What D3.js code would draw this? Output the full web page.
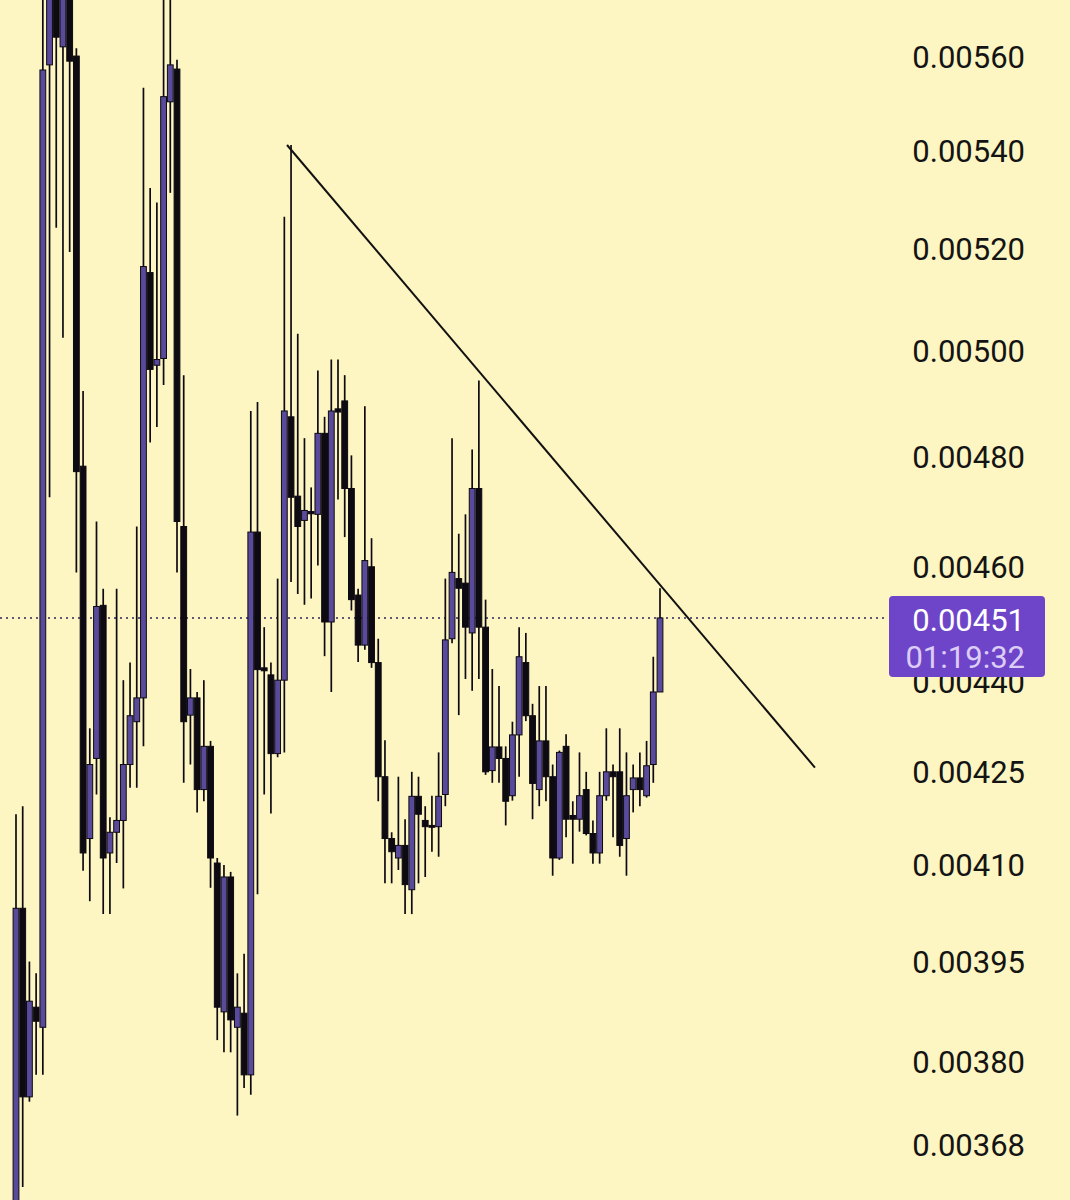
<!DOCTYPE html>
<html>
<head>
<meta charset="utf-8">
<script src="https://cdn.jsdelivr.net/npm/d3@7"></script>
<style>
  html, body { margin: 0; padding: 0; background: #fdf7c4; }
  svg { display: block; }
</style>
</head>
<body>
<svg id="chart" width="1070" height="1200"></svg>
<script>
// Prices in units of 1e-5 (e.g. 451.0 = 0.00451)
const openE5 = [356.0,403.2,374.9,388.1,385.1,558.3,575.6,562.2,574.1,560.2,
 478.2,414.2,427.2,453.2,411.9,415.2,417.1,426.2,433.3,437.3,
 515.3,497.2,498.5,550.4,557.4,467.2,434.4,437.3,422.1,429.2,
 410.3,387.4,408.1,385.1,387.2,378.1,466.2,442.4,441.2,428.0,
 440.3,487.4,472.7,468.3,469.9,469.4,484.3,450.3,488.9,490.4,
 474.1,455.0,446.3,460.0,443.3,424.2,414.2,411.1,413.1,406.1,
 421.0,417.1,416.3,416.1,421.3,447.4,457.9,457.1,448.4,474.1,
 449.4,425.2,429.1,427.2,421.1,431.1,443.3,434.3,422.1,430.1,
 424.2,411.1,429.2,417.9,417.3,422.1,415.0,411.9,421.1,425.0,
 425.0,414.2,422.1,424.0,421.1,426.2,438.3];
const highE5 = [418.1,419.4,395.0,393.2,577.8,578.9,578.9,577.8,577.8,561.9,
 492.3,432.2,468.1,456.1,417.6,456.1,440.3,443.3,467.2,553.4,
 532.4,529.4,574.5,575.6,559.4,495.3,442.2,438.3,440.3,430.1,
 411.1,410.0,408.9,393.2,396.2,488.5,490.2,449.4,443.3,457.9,
 526.5,541.3,503.3,483.4,474.3,496.2,487.4,498.3,498.3,495.3,
 480.2,456.1,489.4,465.1,447.4,430.2,415.2,424.2,417.3,425.0,
 424.2,419.4,421.1,428.2,457.9,483.4,465.9,469.4,481.3,494.3,
 454.2,442.2,439.3,429.2,433.3,449.4,448.4,436.3,439.3,439.3,
 426.2,428.5,431.2,420.2,428.2,425.0,417.1,425.0,432.2,426.2,
 432.2,428.2,426.2,428.2,430.1,444.3,456.2];
const lowE5 = [351.8,362.1,374.2,378.1,378.1,472.5,524.3,502.5,519.4,459.0,
 409.1,404.3,421.3,402.3,402.3,410.3,406.3,422.4,422.4,429.2,
 482.6,485.5,493.4,531.4,459.0,423.2,426.2,418.4,420.2,406.4,
 383.2,381.4,381.4,372.2,376.2,375.2,405.4,421.3,418.2,427.4,
 428.2,457.3,455.2,453.3,454.4,460.2,444.4,438.3,472.1,465.3,
 452.3,443.4,445.5,442.4,420.2,407.1,407.1,409.2,402.3,402.3,
 407.1,408.1,412.1,411.3,419.4,446.6,434.4,440.5,438.5,440.5,
 424.5,423.2,423.2,416.3,420.3,424.2,433.4,417.3,419.4,420.2,
 408.3,410.8,414.4,410.2,415.3,414.7,410.2,410.2,420.3,414.4,
 411.3,408.3,418.4,419.4,420.8,423.2,438.3];
const closeE5 = [403.2,374.9,389.0,386.0,557.2,574.1,564.3,573.5,559.1,477.2,
 411.9,426.2,453.0,411.1,415.2,417.1,426.2,434.3,437.3,516.5,
 496.4,498.3,551.5,558.3,468.1,433.3,437.3,422.1,429.2,411.1,
 388.1,408.1,386.2,388.1,378.1,466.2,442.1,441.9,428.0,440.3,
 488.5,472.5,467.2,470.1,469.5,484.3,450.3,488.5,488.3,474.1,
 454.2,446.3,461.1,443.3,424.2,414.2,412.1,413.1,406.9,421.0,
 418.1,416.1,416.0,421.0,447.2,459.0,456.2,449.4,474.1,449.4,
 425.0,429.1,427.2,420.2,431.1,444.3,434.3,423.1,430.1,424.2,
 411.1,428.2,417.3,417.3,421.1,415.0,411.9,421.1,425.0,424.2,
 413.1,421.1,424.0,422.1,426.0,438.3,451.0];

const tickLabels = ["0.00560","0.00540","0.00520","0.00500","0.00480","0.00460","0.00440","0.00425","0.00410","0.00395","0.00380","0.00368"];
const lastPrice = 0.00451;
const lastPriceLabel = "0.00451";
const countdownLabel = "01:19:32";
// trend line anchors: [candle index, price]
const trendIdx = [40.4, 119.1];
const trendPriceE5 = [541.3, 425.7];

const E = 1e-5;
const candles = openE5.map((o, i) => ({
  i, o: o * E, h: highE5[i] * E, l: lowE5[i] * E, c: closeE5[i] * E
}));

const W = 1070, H = 1200;
const svg = d3.select("#chart");
svg.append("rect").attr("width", W).attr("height", H).attr("fill", "#fdf6c2");

const x = d3.scaleLinear().domain([0, 96]).range([16, 660]);
const y = d3.scaleLog().domain([0.00560, 0.00368]).range([57, 1145]);

svg.append("defs").append("clipPath").attr("id", "plot")
  .append("rect").attr("x", 0).attr("y", 0).attr("width", 885).attr("height", H);

const plot = svg.append("g").attr("clip-path", "url(#plot)");

// last price dotted line
plot.append("line")
  .attr("x1", 0).attr("x2", 890)
  .attr("y1", y(lastPrice)).attr("y2", y(lastPrice))
  .attr("stroke", "#2e2560").attr("stroke-width", 1.6)
  .attr("stroke-dasharray", "2,4");

const bodyW = 5.8;
const g = plot.selectAll("g.candle").data(candles).join("g").attr("class", "candle");
g.append("line")
  .attr("x1", d => x(d.i)).attr("x2", d => x(d.i))
  .attr("y1", d => y(d.h)).attr("y2", d => y(d.l))
  .attr("stroke", "#0d0a12").attr("stroke-width", 1.7);
g.append("rect")
  .attr("x", d => x(d.i) - bodyW / 2)
  .attr("width", bodyW)
  .attr("y", d => y(Math.max(d.o, d.c)))
  .attr("height", d => Math.max(1.5, y(Math.min(d.o, d.c)) - y(Math.max(d.o, d.c))))
  .attr("fill", d => d.c >= d.o ? "#5a4a9c" : "#0d0a12")
  .attr("stroke", "#0d0a12").attr("stroke-width", 1);

// trend line
const trend = trendIdx.map((t, k) => [x(t), y(trendPriceE5[k] * E)]);
plot.append("path")
  .attr("d", d3.line()(trend))
  .attr("stroke", "#111").attr("stroke-width", 2).attr("fill", "none");

// price axis labels
const tickVals = tickLabels.map(Number);
svg.append("g").selectAll("text").data(tickVals).join("text")
  .attr("x", 1025).attr("y", d => y(d)).attr("dy", "0.36em")
  .attr("text-anchor", "end")
  .attr("font-family", "Roboto, sans-serif").attr("font-size", 31)
  .attr("fill", "#141414")
  .text((d, i) => tickLabels[i]);

// last price tag
const ty = y(lastPrice);
const tag = svg.append("g");
tag.append("rect").attr("x", 889).attr("y", ty - 22).attr("width", 156).attr("height", 81)
  .attr("rx", 4).attr("fill", "#6e45c8");
tag.append("text").attr("x", 1025).attr("y", ty + 2).attr("dy", "0.36em")
  .attr("text-anchor", "end")
  .attr("font-family", "Roboto, sans-serif").attr("font-size", 31)
  .attr("fill", "#ffffff").text(lastPriceLabel);
tag.append("text").attr("x", 1025).attr("y", ty + 39).attr("dy", "0.36em")
  .attr("text-anchor", "end")
  .attr("font-family", "Roboto, sans-serif").attr("font-size", 31)
  .attr("fill", "#dccdf7").text(countdownLabel);
</script>
</body>
</html>
